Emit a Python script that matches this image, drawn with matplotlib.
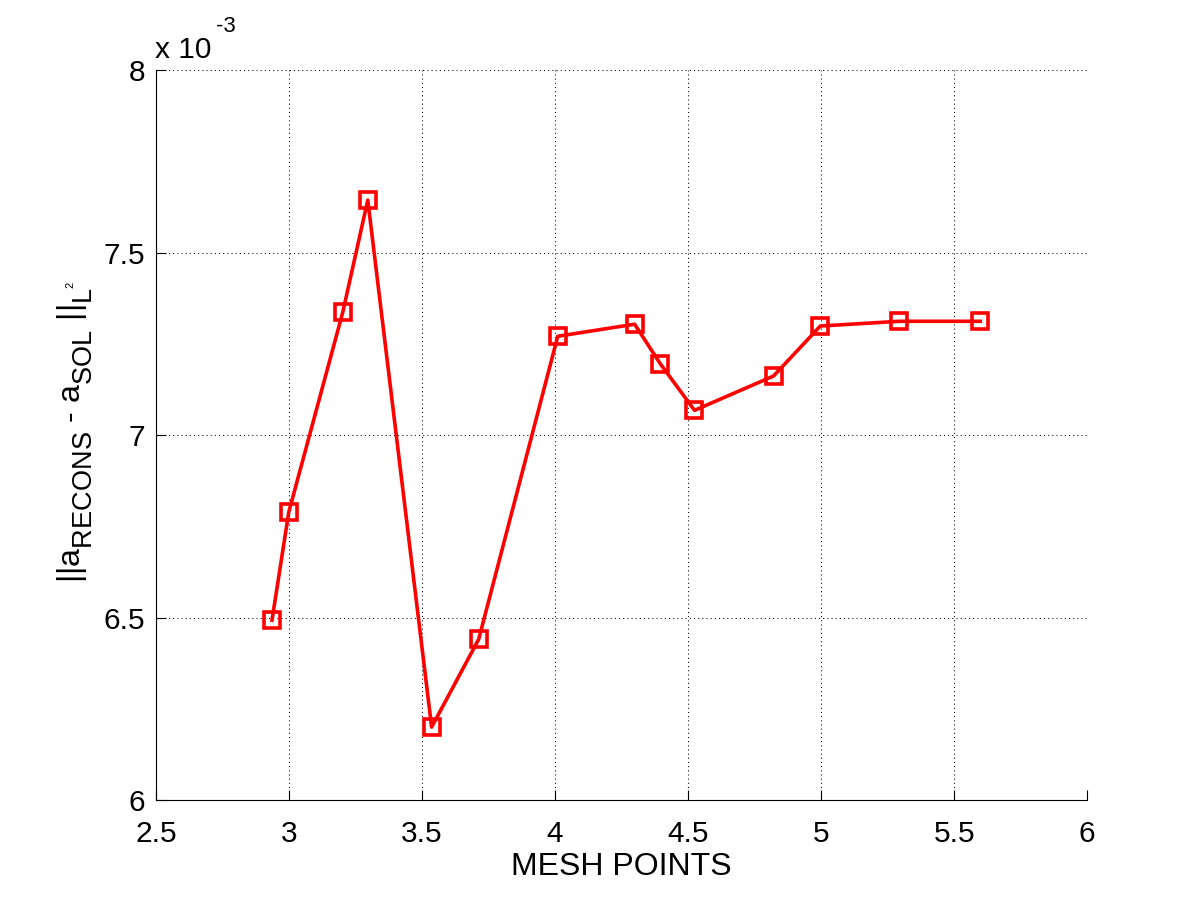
import numpy as np
import matplotlib
matplotlib.use('Agg')
import matplotlib.pyplot as plt
import matplotlib._mathtext as mathtext_internal

plt.rcParams['font.family'] = ['Liberation Sans', 'DejaVu Sans']
plt.rcParams['mathtext.fontset'] = 'custom'
plt.rcParams['mathtext.rm'] = 'Liberation Sans'
plt.rcParams['mathtext.it'] = 'Liberation Sans'
plt.rcParams['mathtext.bf'] = 'Liberation Sans:bold'
# MATLAB 的下标比较大，而且下沉更多
mathtext_internal.SHRINK_FACTOR = 0.85
mathtext_internal.FontConstantsBase.sub1 = 0.75

# 数据
mesh_points = [2.936, 2.999, 3.202, 3.296, 3.536, 3.713, 4.010,
               4.299, 4.396, 4.524, 4.821, 4.997, 5.294, 5.598]
error = [6.493, 6.789, 7.337, 7.644, 6.200, 6.441, 7.271,
         7.304, 7.195, 7.068, 7.162, 7.299, 7.312, 7.312]
error = np.array(error) * 1e-3

fig = plt.figure(figsize=(12, 9), dpi=100)
ax = fig.add_axes([0.13, 0.111, 0.776, 0.811])

ax.plot(mesh_points, error, '-s', color='red', linewidth=2.6,
        markersize=11.5, markerfacecolor='none', markeredgewidth=2.6)

ax.set_xlim(2.5, 6)
ax.set_ylim(6e-3, 8e-3)
ax.set_xticks(np.arange(2.5, 6.01, 0.5))
ax.set_yticks(np.arange(6e-3, 8.01e-3, 0.5e-3))
ax.set_xticklabels(['2.5', '3', '3.5', '4', '4.5', '5', '5.5', '6'])
ax.set_yticklabels(['6', '6.5', '7', '7.5', '8'])

ax.grid(True, linestyle=(0, (1, 3)), color='black', linewidth=0.75)
ax.spines['top'].set_visible(False)
ax.spines['right'].set_visible(False)
ax.tick_params(direction='in', length=7, labelsize=21.5)
ax.tick_params(axis='x', pad=14)
ax.tick_params(axis='y', pad=8)

ax.set_xlabel('MESH POINTS', fontsize=23, labelpad=3)
ax.set_ylabel(r'||a$_{\mathrm{RECONS}}$ - a$_{\mathrm{SOL}}$ ||$_{\mathrm{L}}$',
              fontsize=23, labelpad=6)

# L 上面的小 "2"
fig.canvas.draw()
bb = ax.yaxis.label.get_window_extent()
fig.text((bb.x0 + 10) / 1200, (bb.y1 + 2) / 900, '2', fontsize=8,
         rotation=90, ha='left', va='center')

# 指数标记
fig.text(155 / 1200, 1 - 58 / 900, 'x 10', fontsize=21.5, va='baseline')
fig.text(216 / 1200, 1 - 32 / 900, '-3', fontsize=16, va='baseline')

fig.savefig('out.png', dpi=100)
